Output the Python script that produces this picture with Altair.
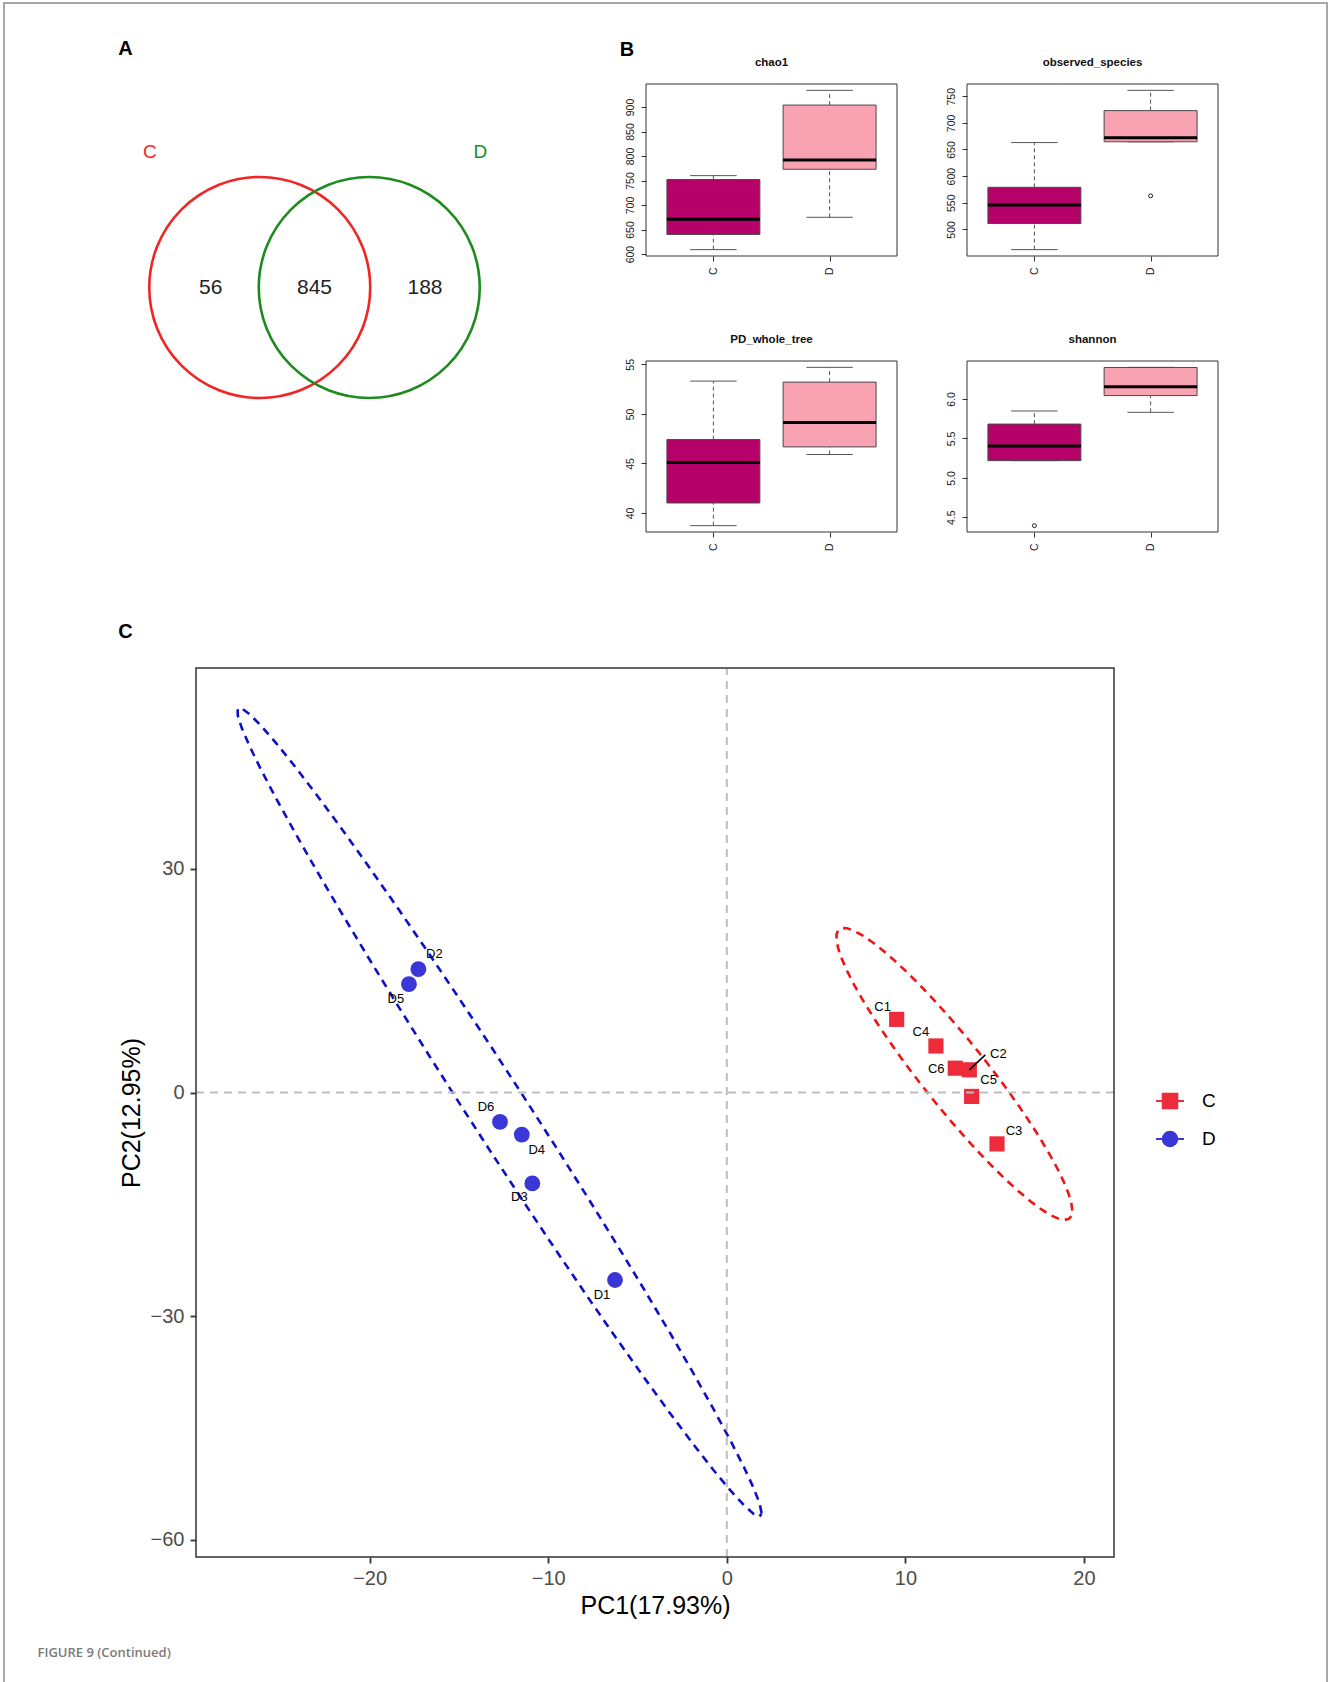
import math
import numpy as np
import pandas as pd
import altair as alt

FONT = "Liberation Sans"
PAGE_W, PAGE_H = 1331, 1682

# ---------------- A: Venn diagram of OTUs ----------------
venn_sets = ["C", "D"]
venn_set_x = [-0.4955, 0.4955]            # circle centres, in units of the radius
venn_set_colors = ["#F22424", "#1E8B1E"]
venn_counts = ["56", "845", "188"]         # C only, shared, D only
venn_count_x = [-0.94, 0.0, 1.0]
venn_name_x = [-1.49, 1.50]
venn_name_y = 1.23

# ---------------- B: alpha diversity boxplots ----------------
box_groups = ["C", "D"]
box_fill = ["#B6006A", "#F8A2B2"]
alpha_metrics = ["chao1", "observed_species", "PD_whole_tree", "shannon"]

chao1 = {"lower": [609, 675], "q1": [640, 773], "median": [671, 792],
         "q3": [752, 904], "upper": [760, 934], "outliers": [[], []]}
observed_species = {"lower": [462, 664.5], "q1": [511, 664.5], "median": [546, 672],
                    "q3": [579, 723], "upper": [663, 761], "outliers": [[], [563]]}
PD_whole_tree = {"lower": [38.72, 45.90], "q1": [41.01, 46.67], "median": [45.09, 49.14],
                 "q3": [47.41, 53.21], "upper": [53.31, 54.70], "outliers": [[], []]}
shannon = {"lower": [5.218, 5.830], "q1": [5.218, 6.042], "median": [5.404, 6.153],
           "q3": [5.681, 6.398], "upper": [5.847, 6.400], "outliers": [[4.394], []]}
alpha_stats = {"chao1": chao1, "observed_species": observed_species,
               "PD_whole_tree": PD_whole_tree, "shannon": shannon}
alpha_ticks = {
    "chao1": [600, 650, 700, 750, 800, 850, 900],
    "observed_species": [500, 550, 600, 650, 700, 750],
    "PD_whole_tree": [40, 45, 50, 55],
    "shannon": [4.5, 5.0, 5.5, 6.0],
}

# ---------------- C: PCA of samples ----------------
pca_groups = ["C", "D"]
pca_point_colors = ["#EE2B3B", "#3B36D6"]
pca_ellipse_colors = ["#F01414", "#0D10C6"]
c_samples = ["C1", "C2", "C3", "C4", "C5", "C6"]
c_pc1 = [9.51, 13.58, 15.13, 11.71, 13.71, 12.79]
c_pc2 = [9.82, 3.05, -6.89, 6.25, -0.52, 3.27]
d_samples = ["D1", "D2", "D3", "D4", "D5", "D6"]
d_pc1 = [-6.26, -17.27, -10.89, -11.48, -17.80, -12.70]
d_pc2 = [-25.15, 16.55, -12.19, -5.64, 14.54, -3.94]
pc1_title = "PC1(17.93%)"
pc2_title = "PC2(12.95%)"

# repelled label offsets (pixels) and the one leader segment
label_nudge = {
    "C1": (-14, -12), "C2": (29, -16), "C3": (17, -13), "C4": (-15, -14),
    "C5": (17, -16), "C6": (-19, 1),
    "D1": (-13, 15), "D2": (16, -15), "D3": (-13, 14), "D4": (15, 15),
    "D5": (-13, 15), "D6": (-14, -15),
}
leader_nudge = {"C2": (16, -15)}

# ---------------- layout (pixels) ----------------
VENN_CX, VENN_CY, VENN_R = 314.5, 287.5, 110.5
BOX_PANELS = {
    "chao1": (646, 897, 84, 256),
    "observed_species": (967, 1218, 84, 256),
    "PD_whole_tree": (646, 897, 361, 532),
    "shannon": (967, 1218, 361, 532),
}
PCA_BOX = (196, 1114, 668, 1557)


def lin(domain, rng):
    return alt.Scale(domain=[float(v) for v in domain], range=[float(v) for v in rng],
                     zero=False, nice=False)


# ---------------- Venn panel ----------------
def venn_panel():
    span = 1.6
    xs = lin([-span, span], [VENN_CX - span * VENN_R, VENN_CX + span * VENN_R])
    ys = lin([-span, span], [VENN_CY + span * VENN_R, VENN_CY - span * VENN_R])
    sets = pd.DataFrame({"set": venn_sets, "x": venn_set_x, "y": [0.0] * 2,
                         "nx": venn_name_x, "ny": [venn_name_y] * 2})
    counts = pd.DataFrame({"n": venn_counts, "x": venn_count_x, "y": [0.0] * 3})
    circles = alt.Chart(sets).mark_point(
        shape="circle", filled=False, opacity=1, strokeWidth=2.6,
        size=(2 * VENN_R) ** 2,           # symbol size is the squared diameter
    ).encode(
        x=alt.X("x:Q", scale=xs, axis=None),
        y=alt.Y("y:Q", scale=ys, axis=None),
        stroke=alt.Stroke("set:N", scale=alt.Scale(domain=venn_sets, range=venn_set_colors), legend=None),
    )
    names = alt.Chart(sets).mark_text(fontSize=19, font=FONT).encode(
        x=alt.X("nx:Q", scale=xs, axis=None), y=alt.Y("ny:Q", scale=ys, axis=None), text="set:N",
        fill=alt.Fill("set:N", scale=alt.Scale(domain=venn_sets, range=venn_set_colors), legend=None),
    )
    nums = alt.Chart(counts).mark_text(fontSize=21, font=FONT, color="#222222").encode(
        x=alt.X("x:Q", scale=xs, axis=None), y=alt.Y("y:Q", scale=ys, axis=None), text="n:N",
    )
    return [circles, names, nums]


# ---------------- Boxplot panels ----------------
def box_panel(name):
    st = alpha_stats[name]
    left, right, top, bottom = BOX_PANELS[name]
    values = []
    for key in ["lower", "q1", "median", "q3", "upper"]:
        values += list(st[key])
    for o in st["outliers"]:
        values += list(o)
    lo, hi = min(values), max(values)
    pad = 0.04 * (hi - lo)
    ylo, yhi = lo - pad, hi + pad
    xs = lin([0.42, 2.58], [left, right])
    ys = lin([ylo, yhi], [bottom, top])

    rows = []
    for i, g in enumerate(box_groups):
        pos = i + 1
        rows.append({"group": g, "pos": pos, "bl": pos - 0.4, "br": pos + 0.4,
                     "cl": pos - 0.2, "cr": pos + 0.2,
                     "lower": st["lower"][i], "q1": st["q1"][i], "median": st["median"][i],
                     "q3": st["q3"][i], "upper": st["upper"][i]})
    df = pd.DataFrame(rows)
    out = pd.DataFrame([{"pos": i + 1, "v": v} for i, o in enumerate(st["outliers"]) for v in o])

    label_expr = "datum.value == 1 ? '%s' : '%s'" % (box_groups[0], box_groups[1])
    x_axis = alt.Axis(orient="bottom", offset=bottom - PAGE_H, values=[1, 2], labelExpr=label_expr,
                      labelAngle=-90, labelAlign="right", labelBaseline="middle",
                      tickSize=5, tickColor="#333333", labelFontSize=10.5, labelColor="#222222",
                      labelPadding=6, domain=False, grid=False, title=None,
                      labelOverlap=False, labelFlush=False, labelBound=False)
    y_axis = alt.Axis(orient="left", offset=-left, values=alpha_ticks[name],
                      labelAngle=-90, labelAlign="center", labelBaseline="bottom",
                      tickSize=5, tickColor="#333333", labelFontSize=10.5, labelColor="#222222",
                      labelPadding=6, domain=False, grid=False, title=None,
                      labelOverlap=False, labelFlush=False, labelBound=False)

    def X(f, axis=None):
        return alt.X(f, scale=xs, axis=axis)

    def Y(f, axis=None):
        return alt.Y(f, scale=ys, axis=axis)

    base = alt.Chart(df)
    dash = dict(color="#555555", strokeWidth=1, strokeDash=[4, 3])
    whisk_lo = base.mark_rule(**dash).encode(x=X("pos:Q", x_axis), y=Y("lower:Q", y_axis), y2="q1:Q")
    whisk_hi = base.mark_rule(**dash).encode(x=X("pos:Q"), y=Y("q3:Q"), y2="upper:Q")
    cap_lo = base.mark_rule(color="#555555", strokeWidth=1).encode(x=X("cl:Q"), x2="cr:Q", y=Y("lower:Q"))
    cap_hi = base.mark_rule(color="#555555", strokeWidth=1).encode(x=X("cl:Q"), x2="cr:Q", y=Y("upper:Q"))
    box = base.mark_rect(stroke="#4A4A4A", strokeWidth=1).encode(
        x=X("bl:Q"), x2="br:Q", y=Y("q1:Q"), y2="q3:Q",
        fill=alt.Fill("group:N", scale=alt.Scale(domain=box_groups, range=box_fill), legend=None))
    med = base.mark_rule(color="black", strokeWidth=3).encode(x=X("bl:Q"), x2="br:Q", y=Y("median:Q"))
    one = alt.Chart(pd.DataFrame({"z": [0]}))
    frame = one.mark_rect(fill="white", fillOpacity=0, stroke="#333333", strokeWidth=1).encode(
        x=alt.XDatum(0.42, scale=xs, axis=None), x2=alt.X2Datum(2.58),
        y=alt.YDatum(ylo, scale=ys, axis=None), y2=alt.Y2Datum(yhi))
    title = one.mark_text(text=name, font=FONT, fontSize=11.5, fontWeight="bold", color="#111111").encode(
        x=alt.XDatum(1.5, scale=xs, axis=None), y=alt.value(top - 21.5))
    units = [whisk_lo, whisk_hi, cap_lo, cap_hi, box, med]
    if len(out):
        units.append(alt.Chart(out).mark_point(shape="circle", filled=False, opacity=1, size=16,
                                               color="#222222", strokeWidth=1).encode(
            x=X("pos:Q"), y=Y("v:Q")))
    units += [frame, title]
    return units


# ---------------- PCA panel ----------------
def ellipse_path(xs, ys, level=0.95, segments=51):
    pts = np.column_stack([xs, ys])
    centre = pts.mean(axis=0)
    shape = np.cov(pts, rowvar=False)
    dfn, dfd = 2, len(xs) - 1
    # F quantile with 2 numerator degrees of freedom has a closed form
    fq = dfd / 2.0 * ((1 - level) ** (-2.0 / dfd) - 1)
    radius = math.sqrt(dfn * fq)
    t = np.linspace(0, 2 * np.pi, segments + 1)
    unit = np.column_stack([np.cos(t), np.sin(t)])
    upper = np.linalg.cholesky(shape).T
    e = centre + radius * unit @ upper
    return e[:, 0], e[:, 1]


def pca_panel():
    left, right, top, bottom = PCA_BOX
    groups = {
        "C": (c_samples, c_pc1, c_pc2),
        "D": (d_samples, d_pc1, d_pc2),
    }
    ells = {g: ellipse_path(v[1], v[2]) for g, v in groups.items()}
    allx = np.concatenate([np.array(v[1]) for v in groups.values()] + [e[0] for e in ells.values()])
    ally = np.concatenate([np.array(v[2]) for v in groups.values()] + [e[1] for e in ells.values()])
    x0, x1 = allx.min(), allx.max()
    y0, y1 = ally.min(), ally.max()
    px, py = 0.05 * (x1 - x0), 0.05 * (y1 - y0)
    x0, x1, y0, y1 = float(x0 - px), float(x1 + px), float(y0 - py), float(y1 + py)
    xs = lin([x0, x1], [left, right])
    ys = lin([y0, y1], [bottom, top])
    ux = (right - left) / (x1 - x0)
    uy = (bottom - top) / (y1 - y0)

    x_axis = alt.Axis(orient="bottom", offset=bottom - PAGE_H, values=[-20, -10, 0, 10, 20],
                      tickSize=6, tickWidth=1.8, tickColor="#333333", labelFontSize=20,
                      labelColor="#4D4D4D", labelPadding=5, domain=False, grid=False,
                      title=pc1_title, titleFontSize=25, titleFontWeight="normal", titleColor="black",
                      titleY=56, titleBaseline="alphabetic", labelOverlap=False, labelFlush=False,
                      labelBound=False)
    y_axis = alt.Axis(orient="left", offset=-left, values=[-60, -30, 0, 30],
                      tickSize=6, tickWidth=1.8, tickColor="#333333", labelFontSize=20,
                      labelColor="#4D4D4D", labelPadding=6, domain=False, grid=False,
                      title=pc2_title, titleFontSize=25, titleFontWeight="normal", titleColor="black",
                      titleX=-57, titleBaseline="alphabetic", labelOverlap=False, labelFlush=False,
                      labelBound=False)

    def X(f, axis=None):
        return alt.X(f, scale=xs, axis=axis)

    def Y(f, axis=None):
        return alt.Y(f, scale=ys, axis=axis)

    units = []
    first = True
    for g, col in zip(pca_groups, pca_ellipse_colors):
        ex, ey = ells[g]
        edf = pd.DataFrame({"x": ex, "y": ey, "i": np.arange(len(ex))})
        if first:
            enc = dict(x=X("x:Q", x_axis), y=Y("y:Q", y_axis))
            first = False
        else:
            enc = dict(x=X("x:Q"), y=Y("y:Q"))
        units.append(alt.Chart(edf).mark_line(color=col, strokeWidth=2.6, strokeDash=[8, 6]).encode(
            order="i:Q", **enc))

    label_rows, leader_rows = [], []
    for g, shp, col, size in zip(pca_groups, ["square", "circle"], pca_point_colors, [230, 250]):
        names, pc1, pc2 = groups[g]
        pdf = pd.DataFrame({"sample": names, "pc1": pc1, "pc2": pc2})
        units.append(alt.Chart(pdf).mark_point(shape=shp, filled=True, opacity=1, size=size, color=col).encode(
            x=X("pc1:Q"), y=Y("pc2:Q")))
        for s, a, b in zip(names, pc1, pc2):
            dx, dy = label_nudge[s]
            label_rows.append({"sample": s, "lx": a + dx / ux, "ly": b - dy / uy})
            if s in leader_nudge:
                ldx, ldy = leader_nudge[s]
                leader_rows.append({"x": a, "y": b, "x2": a + ldx / ux, "y2": b - ldy / uy})

    units.append(alt.Chart(pd.DataFrame(leader_rows)).mark_rule(color="black", strokeWidth=1.6).encode(
        x=X("x:Q"), y=Y("y:Q"), x2="x2:Q", y2="y2:Q"))
    units.append(alt.Chart(pd.DataFrame(label_rows)).mark_text(font=FONT, fontSize=13, color="black").encode(
        x=X("lx:Q"), y=Y("ly:Q"), text="sample:N"))

    one = alt.Chart(pd.DataFrame({"z": [0]}))
    ref = dict(color="#BEBEBE", strokeWidth=2, strokeDash=[8, 6])
    units.append(one.mark_rule(**ref).encode(
        x=alt.XDatum(0, scale=xs, axis=None), y=alt.YDatum(y0, scale=ys, axis=None), y2=alt.Y2Datum(y1)))
    units.append(one.mark_rule(**ref).encode(
        y=alt.YDatum(0, scale=ys, axis=None), x=alt.XDatum(x0, scale=xs, axis=None), x2=alt.X2Datum(x1)))
    units.append(one.mark_rect(fill="white", fillOpacity=0, stroke="#333333", strokeWidth=1.5).encode(
        x=alt.XDatum(x0, scale=xs, axis=None), x2=alt.X2Datum(x1),
        y=alt.YDatum(y0, scale=ys, axis=None), y2=alt.Y2Datum(y1)))

    # legend: a line through each group's symbol
    sq = "M-1,0H1M-0.52,-0.52H0.52V0.52H-0.52Z"
    ci = "M-1,0H1M0.52,0A0.52,0.52,0,1,1,-0.52,0A0.52,0.52,0,1,1,0.52,0Z"
    leg = alt.Legend(orient="none", legendX=1155, legendY=1086, title=None, labelFontSize=19,
                     labelFont=FONT, labelColor="black", symbolSize=784, symbolStrokeWidth=2,
                     labelOffset=17, rowPadding=11, padding=0, direction="vertical")
    legend_unit = alt.Chart(pd.DataFrame({"group": pca_groups})).mark_point(
        filled=True, opacity=1, size=784, strokeWidth=2).encode(
        x=alt.value(-80), y=alt.value(-80),
        fill=alt.Fill("group:N", scale=alt.Scale(domain=pca_groups, range=pca_point_colors), legend=leg),
        stroke=alt.Stroke("group:N", scale=alt.Scale(domain=pca_groups, range=pca_point_colors), legend=leg),
        shape=alt.Shape("group:N", scale=alt.Scale(domain=pca_groups, range=[sq, ci]), legend=leg),
    )
    units.append(legend_unit)
    return units


# ---------------- panel letters, caption and page frame ----------------
notes = pd.DataFrame({
    "t": ["A", "B", "C"],
    "px": [125.5, 627, 125.5],
    "py": [49, 50, 632],
})
letters = alt.Chart(notes).mark_text(font=FONT, fontSize=20, fontWeight="bold", color="black").encode(
    x=alt.X("px:Q", scale=lin([0, PAGE_W], [0, PAGE_W]), axis=None),
    y=alt.Y("py:Q", scale=lin([0, PAGE_H], [0, PAGE_H]), axis=None),
    text="t:N")
caption = alt.Chart(pd.DataFrame({"t": ["FIGURE 9 (Continued)"]})).mark_text(
    font="Open Sans", fontSize=13, fontWeight=600, color="#7A7A7A", align="left", baseline="middle").encode(
    x=alt.value(37.5), y=alt.value(1653), text="t:N")
page_frame = alt.Chart(pd.DataFrame({"z": [0]})).mark_rect(
    fill="white", fillOpacity=0, stroke="#8C8C8C", strokeWidth=1.5).encode(
    x=alt.value(4), x2=alt.value(1327), y=alt.value(3), y2=alt.value(PAGE_H + 20))

units = [page_frame] + venn_panel()
for m in alpha_metrics:
    units += box_panel(m)
units += pca_panel()
units += [letters, caption]

chart = alt.layer(*units).resolve_scale(
    x="independent", y="independent", fill="independent", stroke="independent", shape="independent",
).properties(
    width=PAGE_W, height=PAGE_H, padding=0, background="white",
    autosize=alt.AutoSizeParams(type="none"),
).configure_view(stroke=None).configure_axis(labelFont=FONT, titleFont=FONT)

chart.save("out.html", embed_options={"renderer": "svg", "actions": False})
